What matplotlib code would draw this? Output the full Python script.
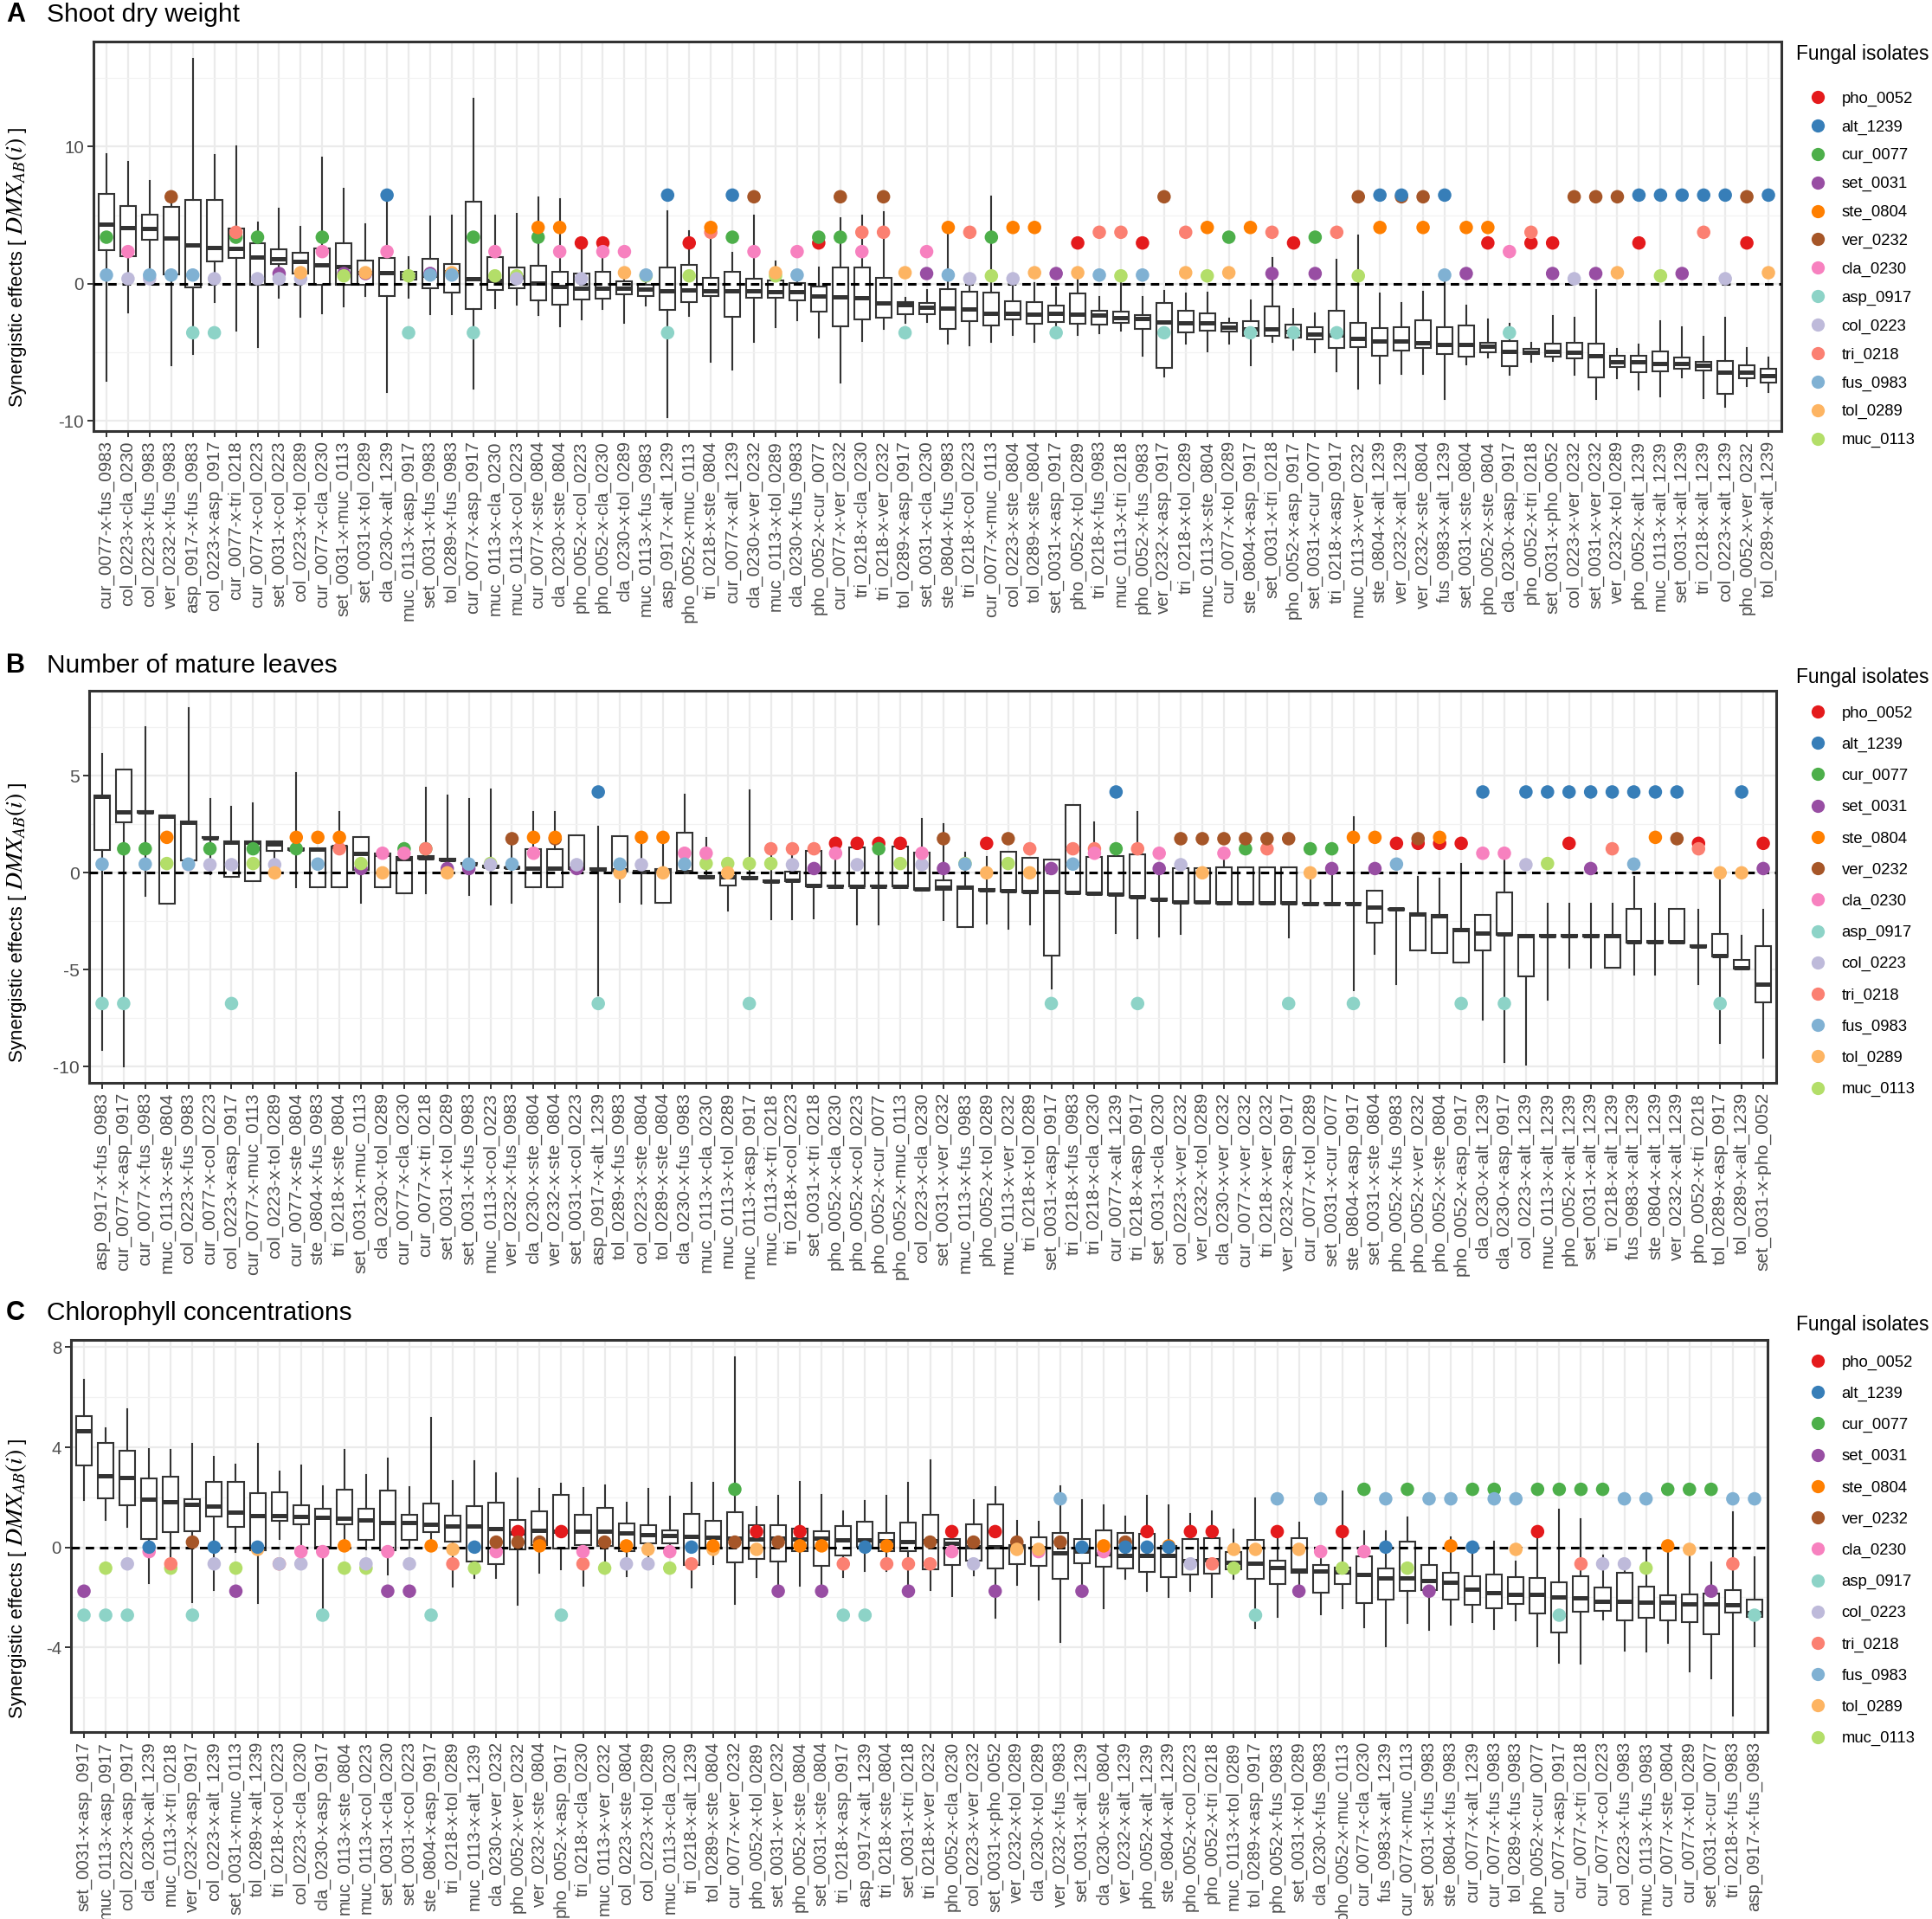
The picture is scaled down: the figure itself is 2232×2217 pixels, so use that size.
import matplotlib
matplotlib.use("Agg")
import matplotlib.pyplot as plt
from matplotlib.lines import Line2D
from matplotlib.ticker import FixedLocator

plt.rcParams['font.family'] = ['Liberation Sans', 'DejaVu Sans']
plt.rcParams['mathtext.fontset'] = 'stix'

# ---------------- data ----------------
isolates = ['pho_0052', 'alt_1239', 'cur_0077', 'set_0031', 'ste_0804', 'ver_0232', 'cla_0230',
            'asp_0917', 'col_0223', 'tri_0218', 'fus_0983', 'tol_0289', 'muc_0113']
iso_colors = ['#E41A1C', '#377EB8', '#4DAF4A', '#984EA3', '#FF7F00', '#A65628', '#F781BF',
              '#8DD3C7', '#BEBADA', '#FB8072', '#80B1D3', '#FDB462', '#B3DE69']

# single-isolate effects (dots), per panel, same order as isolates
single_A = [2.97, 6.46, 3.39, 0.74, 4.10, 6.34, 2.34, -3.58, 0.36, 3.75, 0.63, 0.80, 0.57]
single_B = [1.52, 4.17, 1.24, 0.22, 1.83, 1.76, 1.01, -6.74, 0.42, 1.24, 0.45, 0.00, 0.48]
single_C = [0.63, 0.01, 2.32, -1.75, 0.06, 0.21, -0.17, -2.71, -0.66, -0.66, 1.94, -0.08, -0.83]

labels_A = ['cur_0077-x-fus_0983', 'col_0223-x-cla_0230', 'col_0223-x-fus_0983', 'ver_0232-x-fus_0983',
            'asp_0917-x-fus_0983', 'col_0223-x-asp_0917', 'cur_0077-x-tri_0218', 'cur_0077-x-col_0223',
            'set_0031-x-col_0223', 'col_0223-x-tol_0289', 'cur_0077-x-cla_0230', 'set_0031-x-muc_0113',
            'set_0031-x-tol_0289', 'cla_0230-x-alt_1239', 'muc_0113-x-asp_0917', 'set_0031-x-fus_0983',
            'tol_0289-x-fus_0983', 'cur_0077-x-asp_0917', 'muc_0113-x-cla_0230', 'muc_0113-x-col_0223',
            'cur_0077-x-ste_0804', 'cla_0230-x-ste_0804', 'pho_0052-x-col_0223', 'pho_0052-x-cla_0230',
            'cla_0230-x-tol_0289', 'muc_0113-x-fus_0983', 'asp_0917-x-alt_1239', 'pho_0052-x-muc_0113',
            'tri_0218-x-ste_0804', 'cur_0077-x-alt_1239', 'cla_0230-x-ver_0232', 'muc_0113-x-tol_0289',
            'cla_0230-x-fus_0983', 'pho_0052-x-cur_0077', 'cur_0077-x-ver_0232', 'tri_0218-x-cla_0230',
            'tri_0218-x-ver_0232', 'tol_0289-x-asp_0917', 'set_0031-x-cla_0230', 'ste_0804-x-fus_0983',
            'tri_0218-x-col_0223', 'cur_0077-x-muc_0113', 'col_0223-x-ste_0804', 'tol_0289-x-ste_0804',
            'set_0031-x-asp_0917', 'pho_0052-x-tol_0289', 'tri_0218-x-fus_0983', 'muc_0113-x-tri_0218',
            'pho_0052-x-fus_0983', 'ver_0232-x-asp_0917', 'tri_0218-x-tol_0289', 'muc_0113-x-ste_0804',
            'cur_0077-x-tol_0289', 'ste_0804-x-asp_0917', 'set_0031-x-tri_0218', 'pho_0052-x-asp_0917',
            'set_0031-x-cur_0077', 'tri_0218-x-asp_0917', 'muc_0113-x-ver_0232', 'ste_0804-x-alt_1239',
            'ver_0232-x-alt_1239', 'ver_0232-x-ste_0804', 'fus_0983-x-alt_1239', 'set_0031-x-ste_0804',
            'pho_0052-x-ste_0804', 'cla_0230-x-asp_0917', 'pho_0052-x-tri_0218', 'set_0031-x-pho_0052',
            'col_0223-x-ver_0232', 'set_0031-x-ver_0232', 'ver_0232-x-tol_0289', 'pho_0052-x-alt_1239',
            'muc_0113-x-alt_1239', 'set_0031-x-alt_1239', 'tri_0218-x-alt_1239', 'col_0223-x-alt_1239',
            'pho_0052-x-ver_0232', 'tol_0289-x-alt_1239']
lo_A = [-7.1, -2.1, 0.3, -5.98, -5.1, -1.37, -3.45, -4.63, -1.0, -2.4, -2.19, -1.68, -0.93, -7.94, -1.05, -2.2,
        -2.25, -7.68, -1.77, -1.52, -2.32, -3.09, -2.6, -1.83, -2.88, -1.62, -9.73, -2.36, -5.73, -6.29, -4.27,
        -3.2, -2.67, -3.94, -7.2, -4.21, -3.3, -2.88, -2.8, -4.36, -4.53, -4.27, -3.73, -4.27, -3.3, -3.77, -3.62,
        -3.41, -5.24, -6.78, -4.4, -4.95, -4.4, -5.98, -4.25, -4.82, -4.99, -6.4, -7.68, -7.3, -6.57, -6.57, -8.4,
        -5.89, -5.37, -6.63, -5.73, -5.62, -6.63, -8.42, -6.93, -7.73, -8.21, -6.82, -8.32, -8.99, -7.47, -7.94]
q1_A = [2.46, 1.98, 3.2, 0.7, -0.3, 1.6, 1.89, -0.06, 1.43, 0.74, -0.06, -0.1, -0.06, -0.93, 0.32, -0.34,
        -0.67, -1.85, -0.48, -0.36, -1.24, -1.52, -1.16, -1.07, -0.78, -0.88, -1.94, -1.35, -0.88, -2.4, -1.01,
        -1.03, -1.24, -2.04, -3.14, -2.61, -2.46, -2.25, -2.21, -3.3, -2.72, -3.05, -2.63, -2.95, -2.78, -2.95,
        -2.99, -2.88, -3.3, -6.11, -3.56, -3.41, -3.47, -3.83, -3.83, -3.94, -4.08, -4.67, -4.61, -5.26, -4.88,
        -4.72, -5.14, -5.31, -4.99, -6.0, -5.16, -5.31, -5.45, -6.82, -6.08, -6.46, -6.42, -6.21, -6.32, -8.04,
        -6.88, -7.2]
med_A = [4.32, 4.06, 4.0, 3.3, 2.8, 2.65, 2.59, 1.92, 1.79, 1.6, 1.39, 1.26, 0.8, 0.8, 0.63, 0.63, 0.86, 0.36,
         0.25, 0.48, 0.02, -0.19, -0.32, -0.32, -0.36, -0.4, -0.53, -0.48, -0.53, -0.53, -0.53, -0.57, -0.57,
         -0.9, -0.95, -1.01, -1.41, -1.54, -1.73, -1.77, -1.87, -2.19, -2.15, -2.21, -2.19, -2.25, -2.32, -2.46,
         -2.53, -2.78, -2.84, -2.84, -3.16, -3.3, -3.3, -3.5, -3.68, -3.73, -3.98, -4.19, -4.19, -4.32, -4.42,
         -4.46, -4.57, -4.93, -4.99, -4.95, -4.99, -5.26, -5.68, -5.68, -5.83, -5.83, -5.98, -6.46, -6.46, -6.72]
q3_A = [6.55, 5.68, 5.03, 5.58, 6.13, 6.08, 4.02, 2.93, 2.48, 2.23, 2.55, 2.93, 1.68, 1.89, 0.84, 1.83, 1.43,
        6.0, 1.92, 1.18, 1.3, 0.86, 0.74, 0.84, 0.17, -0.08, 1.16, 1.39, 0.42, 0.86, 0.38, 0.23, 0.06, -0.19,
        1.16, 1.16, 0.42, -1.37, -1.41, -0.4, -0.61, -0.67, -1.26, -1.37, -1.62, -0.72, -1.98, -2.04, -2.27,
        -1.41, -2.0, -2.19, -2.84, -2.72, -1.66, -2.99, -3.2, -2.0, -2.88, -3.26, -3.16, -2.67, -3.2, -3.03,
        -4.32, -4.21, -4.78, -4.36, -4.29, -4.36, -5.24, -5.26, -4.93, -5.37, -5.68, -5.62, -5.98, -6.21]
hi_A = [9.43, 8.9, 7.47, 6.3, 16.4, 9.37, 10.0, 4.44, 5.5, 4.17, 9.18, 6.95, 4.32, 6.3, 1.92, 4.9, 4.97, 13.5,
        5.0, 5.07, 6.27, 6.2, 3.0, 2.8, 0.9, 0.38, 5.28, 3.85, 4.38, 2.27, 4.97, 1.64, 0.6, 1.16, 4.76, 5.0, 5.22,
        -1.0, -0.46, 3.64, -0.04, 6.34, -0.15, 0.06, -0.3, 0.27, -0.95, 0.06, -0.99, -0.53, -0.74, -0.67, -2.57,
        -1.24, 1.85, -1.87, -2.19, 1.75, 3.54, -0.69, -1.41, -0.57, 0.48, -1.58, -2.63, -2.95, -4.32, -2.36,
        -2.46, -0.46, -4.78, -4.46, -2.74, -3.2, -3.89, -2.5, -4.67, -5.37]

labels_B = ['asp_0917-x-fus_0983', 'cur_0077-x-asp_0917', 'cur_0077-x-fus_0983', 'muc_0113-x-ste_0804',
            'col_0223-x-fus_0983', 'cur_0077-x-col_0223', 'col_0223-x-asp_0917', 'cur_0077-x-muc_0113',
            'col_0223-x-tol_0289', 'cur_0077-x-ste_0804', 'ste_0804-x-fus_0983', 'tri_0218-x-ste_0804',
            'set_0031-x-muc_0113', 'cla_0230-x-tol_0289', 'cur_0077-x-cla_0230', 'cur_0077-x-tri_0218',
            'set_0031-x-tol_0289', 'set_0031-x-fus_0983', 'muc_0113-x-col_0223', 'ver_0232-x-fus_0983',
            'cla_0230-x-ste_0804', 'ver_0232-x-ste_0804', 'set_0031-x-col_0223', 'asp_0917-x-alt_1239',
            'tol_0289-x-fus_0983', 'col_0223-x-ste_0804', 'tol_0289-x-ste_0804', 'cla_0230-x-fus_0983',
            'muc_0113-x-cla_0230', 'muc_0113-x-tol_0289', 'muc_0113-x-asp_0917', 'muc_0113-x-tri_0218',
            'tri_0218-x-col_0223', 'set_0031-x-tri_0218', 'pho_0052-x-cla_0230', 'pho_0052-x-col_0223',
            'pho_0052-x-cur_0077', 'pho_0052-x-muc_0113', 'col_0223-x-cla_0230', 'set_0031-x-ver_0232',
            'muc_0113-x-fus_0983', 'pho_0052-x-tol_0289', 'muc_0113-x-ver_0232', 'tri_0218-x-tol_0289',
            'set_0031-x-asp_0917', 'tri_0218-x-fus_0983', 'tri_0218-x-cla_0230', 'cur_0077-x-alt_1239',
            'tri_0218-x-asp_0917', 'set_0031-x-cla_0230', 'col_0223-x-ver_0232', 'ver_0232-x-tol_0289',
            'cla_0230-x-ver_0232', 'cur_0077-x-ver_0232', 'tri_0218-x-ver_0232', 'ver_0232-x-asp_0917',
            'cur_0077-x-tol_0289', 'set_0031-x-cur_0077', 'ste_0804-x-asp_0917', 'set_0031-x-ste_0804',
            'pho_0052-x-fus_0983', 'pho_0052-x-ver_0232', 'pho_0052-x-ste_0804', 'pho_0052-x-asp_0917',
            'cla_0230-x-alt_1239', 'cla_0230-x-asp_0917', 'col_0223-x-alt_1239', 'muc_0113-x-alt_1239',
            'pho_0052-x-alt_1239', 'set_0031-x-alt_1239', 'tri_0218-x-alt_1239', 'fus_0983-x-alt_1239',
            'ste_0804-x-alt_1239', 'ver_0232-x-alt_1239', 'pho_0052-x-tri_0218', 'tol_0289-x-asp_0917',
            'tol_0289-x-alt_1239', 'set_0031-x-pho_0052']
lo_B = [-9.15, -9.97, -1.19, -1.61, 0.64, -0.07, -0.22, -0.42, 0.6, -0.74, -0.74, -0.74, -1.56, -0.74, -1.04,
        -1.04, -0.1, -1.16, -1.64, -1.56, -0.74, -0.74, 0.18, -6.32, -1.52, -1.6, -1.56, 0.0, -0.23, -1.93, -0.3,
        -2.41, -2.41, -2.34, -0.72, -2.68, -2.68, -0.72, -0.86, -2.46, -2.78, -2.6, -2.9, -2.68, -5.95, -1.04,
        -1.08, -3.1, -3.39, -3.3, -3.17, -1.53, -1.58, -1.58, -1.58, -3.35, -1.6, -1.6, -6.07, -4.2, -5.73,
        -4.02, -4.12, -4.64, -7.59, -9.75, -9.9, -6.55, -4.91, -4.91, -4.91, -5.25, -5.25, -3.61, -5.73, -8.78,
        -4.94, -9.55]
q1_B = [1.19, 2.6, 3.1, -1.61, 0.64, 1.78, -0.22, -0.42, 1.15, 1.18, -0.74, -0.74, 0.15, -0.74, -1.04, 0.74,
        0.66, 0.45, 0.29, 0.23, -0.74, -0.74, 0.18, 0.17, 0.1, 0.0, -1.56, 0.0, -0.23, -0.67, -0.28, -0.46,
        -0.45, -0.68, -0.72, -0.72, -0.72, -0.72, -0.86, -0.86, -2.78, -0.92, -0.98, -1.02, -4.29, -1.04, -1.08,
        -1.16, -1.26, -1.42, -1.53, -1.53, -1.58, -1.58, -1.58, -1.58, -1.6, -1.6, -1.6, -2.57, -1.92, -4.02,
        -4.12, -4.64, -3.99, -3.21, -5.33, -3.28, -3.28, -3.28, -4.91, -3.61, -3.61, -3.61, -3.83, -4.33, -4.94,
        -6.67]
med_B = [3.94, 3.15, 3.15, 2.9, 2.6, 1.82, 1.56, 1.56, 1.49, 1.22, 1.22, 1.34, 1.0, 0.97, 0.74, 0.79, 0.7, 0.48,
         0.33, 0.27, 0.22, 0.22, 0.22, 0.21, 0.15, 0.05, 0.12, 0.04, -0.19, -0.22, -0.24, -0.42, -0.39, -0.64,
         -0.7, -0.68, -0.7, -0.68, -0.82, -0.74, -0.74, -0.89, -0.94, -0.98, -0.97, -1.0, -1.04, -1.12, -1.22,
         -1.38, -1.49, -1.49, -1.53, -1.53, -1.53, -1.53, -1.58, -1.58, -1.58, -1.76, -1.88, -2.11, -2.2, -2.95,
         -3.1, -3.17, -3.24, -3.24, -3.24, -3.24, -3.24, -3.57, -3.57, -3.57, -3.79, -4.29, -4.88, -5.73]
q3_B = [3.99, 5.33, 3.2, 2.95, 2.65, 1.86, 1.64, 1.61, 1.61, 1.26, 1.26, 1.37, 1.83, 1.0, 0.82, 0.86, 0.74, 0.52,
        0.37, 0.3, 1.22, 1.22, 1.93, 0.25, 1.89, 0.1, 0.18, 2.05, -0.15, 0.0, -0.2, -0.37, 0.07, 1.12, -0.65,
        1.29, -0.65, 1.34, 1.04, -0.37, -0.72, -0.85, 1.07, 0.77, 0.7, 3.5, 0.82, 0.85, 0.97, -1.34, 0.22, 0.22,
        0.27, 0.27, 0.27, 0.27, -1.56, -1.56, -1.56, -0.92, -1.84, -2.08, -2.16, -2.9, -2.19, -1.0, -3.2, -3.2,
        -3.2, -3.2, -3.2, -1.88, -3.53, -1.88, -3.75, -3.15, -4.49, -3.79]
hi_B = [6.13, 5.33, 7.51, 2.95, 8.5, 3.79, 3.42, 3.57, 1.61, 5.13, 1.26, 3.15, 1.83, 1.0, 0.82, 4.39, 3.99, 3.79,
        4.29, 1.79, 3.15, 3.15, 1.93, 2.38, 1.89, 1.8, 2.08, 4.02, 1.79, 0.7, 4.24, 1.49, 1.49, 1.41, 1.49, 1.29,
        1.49, 1.34, 2.8, 2.5, 1.04, 0.82, 1.07, 0.77, 0.7, 3.5, 2.6, 0.85, 3.15, 0.0, 0.22, 0.22, 0.74, 0.27,
        0.27, 0.27, 0.0, 0.0, 2.86, -0.92, -1.84, -0.22, -0.3, 0.45, -2.19, 0.67, -3.2, -1.61, -1.61, -1.61,
        -1.61, -0.22, -1.61, -1.88, -1.9, 0.0, -3.24, -1.9]

labels_C = ['set_0031-x-asp_0917', 'muc_0113-x-asp_0917', 'col_0223-x-asp_0917', 'cla_0230-x-alt_1239',
            'muc_0113-x-tri_0218', 'ver_0232-x-asp_0917', 'col_0223-x-alt_1239', 'set_0031-x-muc_0113',
            'tol_0289-x-alt_1239', 'tri_0218-x-col_0223', 'col_0223-x-cla_0230', 'cla_0230-x-asp_0917',
            'muc_0113-x-ste_0804', 'muc_0113-x-col_0223', 'set_0031-x-cla_0230', 'set_0031-x-col_0223',
            'ste_0804-x-asp_0917', 'tri_0218-x-tol_0289', 'muc_0113-x-alt_1239', 'cla_0230-x-ver_0232',
            'pho_0052-x-ver_0232', 'ver_0232-x-ste_0804', 'pho_0052-x-asp_0917', 'tri_0218-x-cla_0230',
            'muc_0113-x-ver_0232', 'col_0223-x-ste_0804', 'col_0223-x-tol_0289', 'muc_0113-x-cla_0230',
            'tri_0218-x-alt_1239', 'tol_0289-x-ste_0804', 'cur_0077-x-ver_0232', 'pho_0052-x-tol_0289',
            'set_0031-x-ver_0232', 'pho_0052-x-ste_0804', 'set_0031-x-ste_0804', 'tri_0218-x-asp_0917',
            'asp_0917-x-alt_1239', 'tri_0218-x-ste_0804', 'set_0031-x-tri_0218', 'tri_0218-x-ver_0232',
            'pho_0052-x-cla_0230', 'col_0223-x-ver_0232', 'set_0031-x-pho_0052', 'ver_0232-x-tol_0289',
            'cla_0230-x-tol_0289', 'ver_0232-x-fus_0983', 'set_0031-x-alt_1239', 'cla_0230-x-ste_0804',
            'ver_0232-x-alt_1239', 'pho_0052-x-alt_1239', 'ste_0804-x-alt_1239', 'pho_0052-x-col_0223',
            'pho_0052-x-tri_0218', 'muc_0113-x-tol_0289', 'tol_0289-x-asp_0917', 'pho_0052-x-fus_0983',
            'set_0031-x-tol_0289', 'cla_0230-x-fus_0983', 'pho_0052-x-muc_0113', 'cur_0077-x-cla_0230',
            'fus_0983-x-alt_1239', 'cur_0077-x-muc_0113', 'set_0031-x-fus_0983', 'ste_0804-x-fus_0983',
            'cur_0077-x-alt_1239', 'cur_0077-x-fus_0983', 'tol_0289-x-fus_0983', 'pho_0052-x-cur_0077',
            'cur_0077-x-asp_0917', 'cur_0077-x-tri_0218', 'cur_0077-x-col_0223', 'col_0223-x-fus_0983',
            'muc_0113-x-fus_0983', 'cur_0077-x-ste_0804', 'cur_0077-x-tol_0289', 'set_0031-x-cur_0077',
            'tri_0218-x-fus_0983', 'asp_0917-x-fus_0983']
lo_C = [1.9, 1.1, 0.82, -1.44, -0.6, -2.18, -1.7, -0.2, -2.21, 0.32, -0.02, -2.5, -0.02, -0.08, -1.1, -0.02,
        -0.02, -1.58, -1.23, -1.23, -2.31, -1.0, -0.87, -1.52, -1.06, -1.15, -0.54, -0.31, -1.6, -0.66, -2.27,
        -1.18, -1.56, -1.52, -1.7, -1.18, -0.95, -0.95, -1.46, -1.72, -1.95, -1.12, -2.83, -1.49, -2.1, -3.79,
        -1.73, -2.45, -1.26, -1.73, -1.98, -1.73, -1.98, -1.26, -3.22, -2.79, -1.7, -2.68, -2.45, -3.19, -3.97,
        -3.02, -3.31, -3.1, -3.0, -3.25, -2.91, -3.94, -4.6, -4.64, -2.88, -4.12, -4.18, -3.83, -4.95, -5.24,
        -6.71, -3.94]
q1_C = [3.29, 1.97, 1.68, 0.32, 0.61, 0.63, 1.25, 0.82, -0.1, 1.07, 0.92, 0.01, 0.93, 0.3, -0.1, 0.3, 0.61,
        0.23, -0.57, -0.66, -0.08, 0.09, -0.06, 0.09, 0.06, -0.14, 0.15, 0.15, -0.72, -0.06, -0.6, -0.45, -0.58,
        -0.16, -0.75, -0.31, 0.03, -0.14, -0.14, -0.87, -0.69, -0.52, -0.83, -0.68, -0.75, -1.27, -0.62, -0.77,
        -0.85, -0.98, -1.18, -1.08, -1.06, -0.89, -1.26, -1.46, -1.0, -1.81, -1.46, -2.24, -2.08, -1.75, -1.7,
        -2.1, -2.31, -2.45, -2.27, -2.65, -3.4, -2.56, -2.53, -2.93, -2.81, -2.91, -3.0, -3.46, -2.6, -2.79]
med_C = [4.67, 2.86, 2.78, 1.91, 1.82, 1.71, 1.65, 1.42, 1.28, 1.27, 1.22, 1.19, 1.15, 1.1, 0.99, 0.99, 0.92,
         0.84, 0.84, 0.76, 0.59, 0.67, 0.65, 0.63, 0.63, 0.59, 0.5, 0.46, 0.44, 0.42, 0.38, 0.35, 0.36, 0.32,
         0.36, 0.3, 0.29, 0.27, 0.24, 0.27, 0.17, 0.03, 0.01, 0.01, -0.02, -0.22, -0.14, -0.25, -0.31, -0.33,
         -0.33, -0.54, -0.48, -0.6, -0.63, -0.8, -0.91, -0.95, -0.98, -1.1, -1.21, -1.23, -1.33, -1.41, -1.67,
         -1.81, -1.87, -1.87, -1.98, -2.02, -2.16, -2.16, -2.19, -2.19, -2.27, -2.27, -2.31, -2.6]
q3_C = [5.25, 4.16, 3.86, 2.77, 2.83, 1.94, 2.61, 2.63, 2.17, 2.19, 1.68, 1.53, 2.32, 1.56, 2.28, 1.3, 1.76,
        1.28, 1.65, 1.79, 1.1, 1.44, 2.09, 1.3, 1.57, 0.96, 0.88, 0.69, 1.33, 1.05, 1.4, 0.9, 0.88, 0.75, 0.63,
        0.87, 1.01, 0.58, 0.98, 1.3, 0.32, 0.93, 1.73, 0.09, 0.4, 0.58, 0.32, 0.67, 0.59, 0.53, 0.07, 0.32, 0.38,
        -0.17, 0.29, -0.54, 0.38, -0.72, -0.8, -0.35, -0.85, 0.24, -0.72, -1.03, -1.15, -1.08, -1.2, -1.23,
        -1.38, -1.15, -1.6, -1.0, -1.58, -1.9, -1.87, -1.85, -1.7, -2.08]
hi_C = [6.69, 4.76, 5.51, 3.92, 3.9, 4.13, 3.61, 3.3, 4.15, 3.03, 3.26, 2.43, 3.9, 2.9, 3.55, 2.4, 5.17, 2.66,
        3.44, 2.95, 2.77, 2.34, 2.55, 2.36, 2.48, 1.8, 2.34, 2.02, 2.57, 2.57, 7.59, 1.63, 2.05, 2.63, 2.09,
        1.44, 1.86, 2.05, 2.57, 3.49, 0.61, 1.88, 2.4, 1.05, 1.01, 2.43, 1.9, 1.67, 1.25, 2.05, 1.67, 1.33, 1.44,
        0.7, 1.97, 0.61, 0.98, -0.1, 2.23, 0.63, 0.63, 1.21, -0.1, 0.4, -0.2, 0.24, -0.58, 0.5, 1.51, 1.13,
        -0.33, -0.63, -0.08, -0.02, -0.02, -0.6, 1.4, -0.4]

panel_titles = ['Shoot dry weight', 'Number of mature leaves', 'Chlorophyll concentrations']
panel_letters = ['A', 'B', 'C']
y_ticks = [[-10, 0, 10], [-10, -5, 0, 5], [-4, 0, 4, 8]]
y_minor = [[-5, 5, 15], [-7.5, -2.5, 2.5, 7.5], [-6, -2, 2, 6]]
y_lims = [(-10.75, 17.66), (-10.83, 9.39), (-7.38, 8.29)]
ylab_parts = ['Synergistic effects [ ', r'$DMX_{AB}(i)$', ' ]']

# ---------------- layout ----------------
W, H = 2232, 2217
fig = plt.figure(figsize=(W / 100, H / 100), dpi=100)
fig.patch.set_facecolor('white')
renderer = fig.canvas.get_renderer()

rects_px = [(108, 48, 2058, 498), (103, 798, 2052, 1251), (82, 1548, 2042, 2001)]
title_y_px = [17, 769, 1517]
leg_title_y_px = [63, 783, 1530]
leg_first_y_px = [114, 824, 1574]
leg_spacing = [0.85, 1.03, 1.03]
tick_fs = [14.8, 15.2, 14.6]
ylab_bottom_px = [470, 1227, 1985]
ylab_sizes = [16, 20, 16]

panels = [
    (labels_A, lo_A, q1_A, med_A, q3_A, hi_A, single_A),
    (labels_B, lo_B, q1_B, med_B, q3_B, hi_B, single_B),
    (labels_C, lo_C, q1_C, med_C, q3_C, hi_C, single_C),
]

dark = '#333333'
for p, (labs, lo, q1, med, q3, hi, single) in enumerate(panels):
    l, t, r, b = rects_px[p]
    ax = fig.add_axes([l / W, 1 - b / H, (r - l) / W, (b - t) / H])
    n = len(labs)
    pos = list(range(1, n + 1))
    stats = [dict(med=med[i], q1=q1[i], q3=q3[i], whislo=lo[i], whishi=hi[i], label=labs[i])
             for i in range(n)]
    ax.bxp(stats, positions=pos, widths=0.72, showfliers=False, showcaps=False, patch_artist=True,
           boxprops=dict(facecolor='white', edgecolor=dark, linewidth=1.5),
           whiskerprops=dict(color=dark, linewidth=1.5),
           medianprops=dict(color=dark, linewidth=3.6, solid_capstyle='butt'),
           manage_ticks=False, zorder=3)
    ax.axhline(0, color='black', linestyle=(0, (3.2, 2.2)), linewidth=2.2, zorder=4)
    val = dict(zip(isolates, single))
    col = dict(zip(isolates, iso_colors))
    for i, lab in enumerate(labs):
        a, bb = lab.split('-x-')
        for iso in (a, bb):
            ax.scatter([i + 1], [val[iso]], s=125, color=col[iso], edgecolors='none', zorder=5)
    ax.set_xlim(0.4, n + 0.6)
    ax.set_ylim(*y_lims[p])
    ax.set_xticks(pos)
    ax.set_xticklabels(labs, rotation=90, fontsize=tick_fs[p], color='#4D4D4D')
    ax.set_yticks(y_ticks[p])
    ax.set_yticklabels([str(v) for v in y_ticks[p]], fontsize=tick_fs[p], color='#4D4D4D')
    ax.yaxis.set_minor_locator(FixedLocator(y_minor[p]))
    ax.tick_params(axis='both', which='major', length=5, width=1.4, color=dark, pad=3)
    ax.tick_params(axis='y', which='minor', length=0)
    ax.grid(True, which='major', color='#EBEBEB', linewidth=1.6, zorder=0)
    ax.grid(True, which='minor', axis='y', color='#F2F2F2', linewidth=0.9, zorder=0)
    ax.set_axisbelow(True)
    for s in ax.spines.values():
        s.set_color(dark)
        s.set_linewidth(2.2)

    # y-axis title, built from pieces along a common baseline
    y_cur = H - ylab_bottom_px[p]
    for part, fs in zip(ylab_parts, ylab_sizes):
        txt = fig.text(26 / W, y_cur / H, part, rotation=90, rotation_mode='anchor', fontsize=fs,
                       ha='left', va='baseline', color='black')
        bb_ = txt.get_window_extent(renderer=renderer)
        y_cur += bb_.height

    # panel letter and title
    fig.text(7 / W, 1 - title_y_px[p] / H, panel_letters[p], fontsize=22, fontweight='bold',
             ha='left', va='center')
    fig.text(54 / W, 1 - title_y_px[p] / H, panel_titles[p], fontsize=21.5, ha='left', va='center')

    # legend
    fig.text(2075 / W, 1 - leg_title_y_px[p] / H, 'Fungal isolates', fontsize=16.4,
             ha='left', va='center')
    handles = [Line2D([0], [0], marker='o', linestyle='none', markersize=11, markerfacecolor=c,
                      markeredgecolor='none') for c in iso_colors]
    ax.legend(handles, isolates, loc='upper left',
              bbox_to_anchor=(2087 / W, 1 - (leg_first_y_px[p] - 8.5) / H), bbox_transform=fig.transFigure,
              frameon=False, fontsize=13.3, labelspacing=leg_spacing[p],
              handletextpad=0.8, handlelength=1.4, borderaxespad=0, borderpad=0)

fig.savefig('out.png', dpi=100, facecolor='white')
